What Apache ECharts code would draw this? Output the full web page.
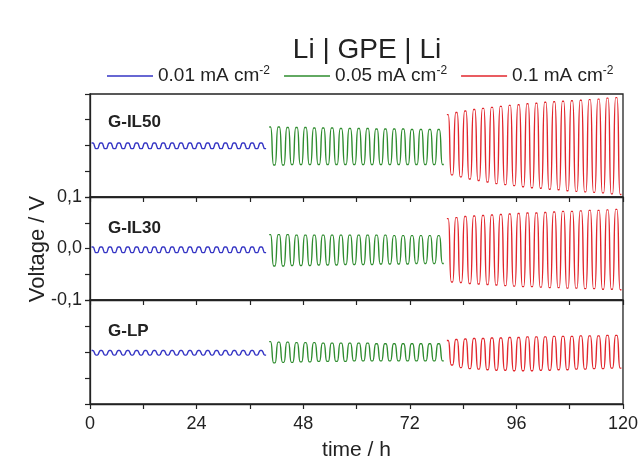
<!DOCTYPE html>
<html>
<head>
<meta charset="utf-8">
<script src="https://cdn.jsdelivr.net/npm/echarts@6/dist/echarts.min.js"></script>
<style>
  html,body{margin:0;padding:0;background:#fff;}
  #main{width:641px;height:465px;}
</style>
</head>
<body>
<div id="main"></div>
<script>
// legend names (current densities) and panel labels
var seriesNames = ['0.01 mA cm-2', '0.05 mA cm-2', '0.1 mA cm-2'];
var panelNames = ['G-IL50', 'G-IL30', 'G-LP'];
var segStart = [0, 40, 80];      // h, start of each current step
var halfCycle = 1;               // h, 1 h charge / 1 h discharge
var xTicks = [0, 24, 48, 72, 96, 120];
var yTickLabels = [-0.1, 0, 0.1];

// peak (hi) and trough (lo) voltages per cycle
// G-IL50
var blueHi1 = [0.005,0.005,0.005,0.005,0.005,0.005,0.005,0.005,0.005,0.005,0.005,0.005,0.005,0.005,0.005,0.005,0.005,0.005,0.005,0.005];
var blueLo1 = [-0.006,-0.006,-0.006,-0.006,-0.006,-0.006,-0.006,-0.006,-0.006,-0.006,-0.006,-0.006,-0.006,-0.006,-0.006,-0.006,-0.006,-0.006,-0.006,-0.006];
var greenHi1 = [0.036,0.036,0.035,0.035,0.035,0.034,0.034,0.034,0.033,0.033,0.033,0.033,0.032,0.032,0.032,0.032,0.031,0.031,0.031,0.031];
var greenLo1 = [-0.038,-0.038,-0.037,-0.037,-0.037,-0.037,-0.037,-0.037,-0.037,-0.037,-0.037,-0.037,-0.037,-0.037,-0.037,-0.037,-0.037,-0.037,-0.037,-0.037];
var redHi1 = [0.060,0.064,0.067,0.070,0.072,0.074,0.076,0.078,0.079,0.081,0.082,0.084,0.085,0.086,0.087,0.088,0.089,0.090,0.092,0.093];
var redLo1 = [-0.057,-0.061,-0.065,-0.068,-0.071,-0.074,-0.076,-0.078,-0.080,-0.082,-0.083,-0.085,-0.086,-0.088,-0.089,-0.090,-0.091,-0.092,-0.094,-0.095];
// G-IL30
var blueHi2 = [0.003,0.003,0.003,0.003,0.003,0.003,0.003,0.003,0.003,0.003,0.003,0.003,0.003,0.003,0.003,0.003,0.003,0.003,0.003,0.003];
var blueLo2 = [-0.008,-0.008,-0.008,-0.008,-0.008,-0.008,-0.008,-0.008,-0.008,-0.008,-0.008,-0.008,-0.008,-0.008,-0.008,-0.008,-0.008,-0.008,-0.008,-0.008];
var greenHi2 = [0.027,0.027,0.027,0.026,0.026,0.026,0.026,0.026,0.026,0.026,0.026,0.026,0.026,0.026,0.025,0.025,0.025,0.025,0.025,0.025];
var greenLo2 = [-0.034,-0.034,-0.033,-0.033,-0.033,-0.032,-0.032,-0.032,-0.031,-0.031,-0.031,-0.031,-0.030,-0.030,-0.030,-0.030,-0.029,-0.029,-0.029,-0.029];
var redHi2 = [0.058,0.060,0.062,0.063,0.064,0.065,0.066,0.067,0.068,0.069,0.069,0.070,0.071,0.072,0.072,0.073,0.074,0.074,0.075,0.076];
var redLo2 = [-0.065,-0.066,-0.068,-0.069,-0.070,-0.071,-0.072,-0.073,-0.074,-0.074,-0.075,-0.076,-0.076,-0.077,-0.077,-0.078,-0.078,-0.079,-0.079,-0.080];
// G-LP
var blueHi3 = [0.003,0.003,0.003,0.003,0.003,0.003,0.003,0.003,0.003,0.003,0.003,0.003,0.003,0.003,0.003,0.003,0.003,0.003,0.003,0.003];
var blueLo3 = [-0.006,-0.006,-0.006,-0.006,-0.006,-0.006,-0.006,-0.006,-0.006,-0.006,-0.006,-0.006,-0.006,-0.006,-0.006,-0.006,-0.006,-0.006,-0.006,-0.006];
var greenHi3 = [0.020,0.019,0.019,0.018,0.018,0.018,0.017,0.017,0.017,0.017,0.017,0.017,0.016,0.016,0.016,0.016,0.016,0.016,0.016,0.016];
var greenLo3 = [-0.021,-0.020,-0.020,-0.019,-0.019,-0.018,-0.018,-0.018,-0.018,-0.017,-0.017,-0.017,-0.017,-0.017,-0.017,-0.017,-0.017,-0.017,-0.017,-0.017];
var redHi3 = [0.022,0.024,0.025,0.026,0.026,0.027,0.027,0.028,0.028,0.029,0.029,0.029,0.030,0.030,0.030,0.031,0.031,0.031,0.032,0.032];
var redLo3 = [-0.025,-0.030,-0.032,-0.033,-0.034,-0.035,-0.035,-0.036,-0.036,-0.036,-0.035,-0.035,-0.034,-0.034,-0.033,-0.033,-0.032,-0.032,-0.031,-0.031];

var colors = ['#3434c4', '#2e8c2e', '#e2262c'];
var panels = [
  [[blueHi1, blueLo1], [greenHi1, greenLo1], [redHi1, redLo1]],
  [[blueHi2, blueLo2], [greenHi2, greenLo2], [redHi2, redLo2]],
  [[blueHi3, blueLo3], [greenHi3, greenLo3], [redHi3, redLo3]]
];

// each cycle -> short plateau at peak, then at trough
function wave(t0, hi, lo) {
  var pts = [];
  for (var k = 0; k < hi.length; k++) {
    var t = t0 + 2 * halfCycle * k;
    pts.push([t + 0.35, hi[k]], [t + 0.65, hi[k]]);
    pts.push([t + 1.35, lo[k]], [t + 1.65, lo[k]]);
  }
  return pts;
}

var font = "'Liberation Sans', Arial, sans-serif";
var gridTop = [94, 197, 300];
var gridH = [103, 103, 104];

var grids = [], xAxes = [], yAxes = [], series = [];
for (var p = 0; p < 3; p++) {
  grids.push({
    left: 90, right: 18, top: gridTop[p], height: gridH[p],
    show: true, borderColor: '#222', borderWidth: 1.3, backgroundColor: 'transparent'
  });
  xAxes.push({
    type: 'value', gridIndex: p, min: 0, max: 120, interval: 12,
    axisLine: { show: true, onZero: false, lineStyle: { color: '#222', width: 1.3 } },
    axisTick: { show: true, length: 5, lineStyle: { color: '#222', width: 1.2 } },
    splitLine: { show: false },
    axisLabel: {
      show: p === 2, margin: 11, color: '#222', fontSize: 18, fontFamily: font,
      formatter: function (v) { return xTicks.indexOf(v) >= 0 ? String(v) : ''; }
    },
    name: p === 2 ? 'time / h' : '', nameLocation: 'middle', nameGap: 36,
    nameTextStyle: { color: '#222', fontSize: 21, fontFamily: font }
  });
  yAxes.push({
    type: 'value', gridIndex: p, min: -0.1, max: 0.1, interval: 0.05,
    axisLine: { show: true, onZero: false, lineStyle: { color: '#222', width: 1.3 } },
    axisTick: { show: true, length: 5, lineStyle: { color: '#222', width: 1.2 } },
    splitLine: { show: false },
    axisLabel: {
      show: p === 1, margin: 8, color: '#222', fontSize: 18, fontFamily: font,
      showMinLabel: true, showMaxLabel: true,
      formatter: function (v) {
        var r = Math.round(v * 100) / 100;
        if (yTickLabels.indexOf(r) < 0) return '';
        return r.toFixed(1).replace('.', ',');
      }
    }
  });
  for (var s = 0; s < 3; s++) {
    series.push({
      type: 'line', name: seriesNames[s], xAxisIndex: p, yAxisIndex: p,
      data: wave(segStart[s], panels[p][s][0], panels[p][s][1]),
      showSymbol: false, symbol: 'none', smooth: 0.5,
      lineStyle: { color: colors[s], width: 1.4 }, itemStyle: { color: colors[s] },
      animation: false
    });
  }
}

var titles = [{
  text: 'Li | GPE | Li', left: 362, top: 31, textAlign: 'center',
  textStyle: { fontSize: 28, fontWeight: 'normal', color: '#222', fontFamily: font }
}];
var labelTop = [109, 215, 318];
for (var i = 0; i < 3; i++) {
  titles.push({
    text: panelNames[i], left: 103, top: labelTop[i],
    textStyle: { fontSize: 17, fontWeight: 'bold', color: '#222', fontFamily: font }
  });
}

var chart = echarts.init(document.getElementById('main'), null, { renderer: 'canvas' });
chart.setOption({
  animation: false,
  title: titles,
  legend: {
    data: seriesNames, left: 102, top: 60, itemWidth: 46, itemHeight: 12, itemGap: 14,
    icon: 'path://M0,6 L46,6 L46,7.3 L0,7.3 Z',
    textStyle: {
      color: '#222', fontSize: 19, fontFamily: font,
      rich: { sup: { fontSize: 12, verticalAlign: 'top', lineHeight: 22, fontFamily: font, color: '#222' } }
    },
    formatter: function (n) { return n.replace('-2', '{sup|-2}'); }
  },
  // shared y-axis title for the three stacked panels
  graphic: [{
    type: 'text', x: 38, y: 249, rotation: Math.PI / 2,
    style: {
      text: 'Voltage / V', fill: '#222', fontSize: 22, fontFamily: font,
      align: 'center', verticalAlign: 'middle'
    }
  }],
  grid: grids,
  xAxis: xAxes,
  yAxis: yAxes,
  series: series
});
</script>
</body>
</html>
